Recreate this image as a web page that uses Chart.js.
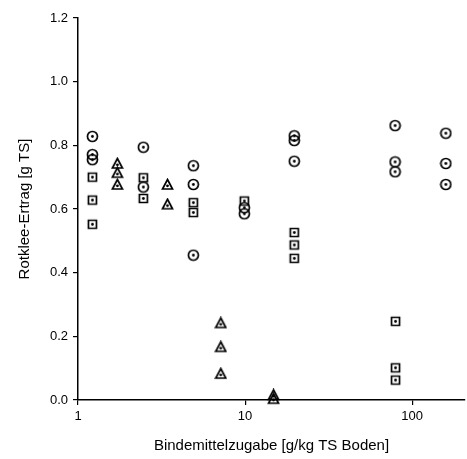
<!DOCTYPE html>
<html>
<head>
<meta charset="utf-8">
<script src="https://cdn.jsdelivr.net/npm/chart.js@4"></script>
<style>
  html, body { margin: 0; padding: 0; background: #fff; }
  #wrap { width: 467px; height: 459px; }
</style>
</head>
<body>
<div id="wrap"><canvas id="chart"></canvas></div>
<script>
// ── Data ─────────────────────────────────────────────────────────────────────

const X_TICKS = [1, 10, 100];
const Y_TICKS = [0, 0.2, 0.4, 0.6, 0.8, 1.0, 1.2];

// circle markers
const circleDose  = [1.22, 1.22, 1.22, 2.46, 2.46, 4.9, 4.9, 4.9, 9.9, 9.9, 19.7, 19.7, 19.7, 79, 79, 79, 159, 159, 159];
const circleYield = [0.828, 0.771, 0.755, 0.794, 0.669, 0.736, 0.677, 0.455, 0.604, 0.585, 0.830, 0.815, 0.750, 0.862, 0.748, 0.717, 0.838, 0.743, 0.677];

// square markers
const squareDose  = [1.22, 1.22, 1.22, 2.46, 2.46, 4.9, 4.9, 9.9, 19.7, 19.7, 19.7, 79.5, 79.5, 79.5];
const squareYield = [0.700, 0.628, 0.552, 0.698, 0.633, 0.620, 0.589, 0.625, 0.526, 0.487, 0.445, 0.247, 0.101, 0.0625];

// triangle markers
const triangleDose  = [1.72, 1.72, 1.72, 3.43, 3.43, 7.15, 7.15, 7.15, 14.8, 14.8];
const triangleYield = [0.743, 0.714, 0.677, 0.677, 0.615, 0.242, 0.167, 0.083, 0.016, 0.004];

// ── Helpers ──────────────────────────────────────────────────────────────────

const INK = '#000';
const TICK_FONT = { family: 'Liberation Sans, Arial, sans-serif', size: 13 };
const TITLE_FONT = { family: 'Liberation Sans, Arial, sans-serif', size: 15 };

function pairs(xs, ys) {
    return xs.map((x, i) => ({ x: x, y: ys[i] }));
}

// marker with a small dot in the middle, drawn once on a tiny canvas
function marker(shape) {
    const c = document.createElement('canvas');
    c.width = 13; c.height = 13;
    const g = c.getContext('2d');
    g.strokeStyle = INK;
    g.fillStyle = INK;
    g.lineWidth = 1.7;
    g.beginPath();
    if (shape === 'circle') {
        g.arc(6.5, 6.5, 5, 0, Math.PI * 2);
    } else if (shape === 'square') {
        g.rect(2.5, 2.5, 8, 8);
    } else {
        g.moveTo(6.5, 1.5);
        g.lineTo(11.5, 11);
        g.lineTo(1.5, 11);
        g.closePath();
    }
    g.stroke();
    g.beginPath();
    g.arc(6.5, shape === 'triangle' ? 7.8 : 6.5, 1.4, 0, Math.PI * 2);
    g.fill();
    return c;
}

function series(label, xs, ys, shape) {
    return {
        label: label,
        data: pairs(xs, ys),
        pointStyle: marker(shape),
        pointRadius: 6,
        pointHoverRadius: 6,
        clip: false
    };
}

// ── Chart ────────────────────────────────────────────────────────────────────

new Chart(document.getElementById('chart'), {
    type: 'scatter',
    data: {
        datasets: [
            series('Kreis', circleDose, circleYield, 'circle'),
            series('Quadrat', squareDose, squareYield, 'square'),
            series('Dreieck', triangleDose, triangleYield, 'triangle')
        ]
    },
    options: {
        responsive: true,
        maintainAspectRatio: false,
        animation: false,
        layout: { autoPadding: false, padding: { top: 18, right: 2, left: 16, bottom: 0 } },
        plugins: { legend: { display: false }, tooltip: { enabled: false } },
        scales: {
            x: {
                type: 'logarithmic',
                min: 1,
                max: 207,
                afterBuildTicks: s => { s.ticks = X_TICKS.map(v => ({ value: v })); },
                afterFit: s => { s.height = 59; },
                ticks: {
                    callback: v => String(v),
                    font: TICK_FONT, color: INK, padding: 4, maxRotation: 0
                },
                grid: { drawOnChartArea: false, drawTicks: true, tickLength: 5, color: INK, lineWidth: 1.2 },
                border: { display: true, color: INK, width: 1.5 },
                title: { display: true, text: 'Bindemittelzugabe [g/kg TS Boden]', font: TITLE_FONT, color: INK, padding: { top: 5 } }
            },
            y: {
                min: 0,
                max: 1.2,
                afterBuildTicks: s => { s.ticks = Y_TICKS.map(v => ({ value: v })); },
                afterFit: s => { s.width = 62; },
                ticks: {
                    callback: v => v.toFixed(1),
                    font: TICK_FONT, color: INK, padding: 5
                },
                grid: { drawOnChartArea: false, drawTicks: true, tickLength: 5, color: INK, lineWidth: 1.2 },
                border: { display: true, color: INK, width: 1.5 },
                title: { display: true, text: 'Rotklee-Ertrag [g TS]', font: TITLE_FONT, color: INK, padding: { top: 0, bottom: 0 } }
            }
        }
    }
});
</script>
</body>
</html>
